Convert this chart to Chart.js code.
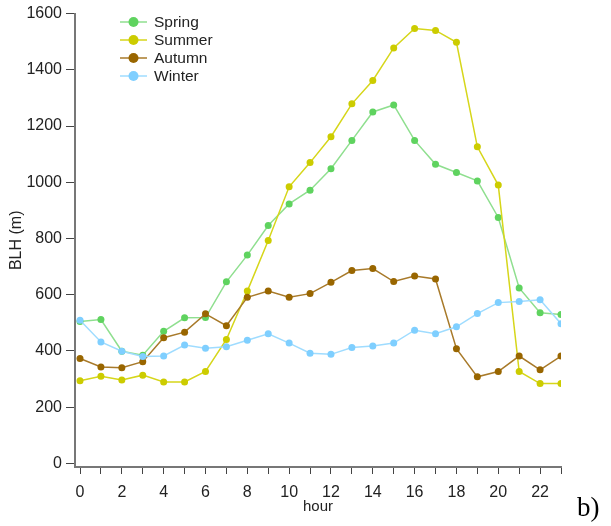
<!DOCTYPE html>
<html>
<head>
<meta charset="utf-8">
<script src="https://cdn.jsdelivr.net/npm/chart.js@4"></script>
<style>
  html, body { margin: 0; padding: 0; background: #fff; }
  #wrap { width: 611px; height: 526px; }
</style>
</head>
<body>
<div id="wrap"><canvas id="blhChart" width="611" height="526"></canvas></div>
<script>
const hours = [0,1,2,3,4,5,6,7,8,9,10,11,12,13,14,15,16,17,18,19,20,21,22,23];
const spring = [505,512,399,385,470,518,519,646,741,846,923,972,1048,1149,1250,1275,1149,1064,1035,1005,875,624,536,530];
const summer = [294,310,297,314,290,290,327,441,613,793,984,1070,1162,1279,1362,1478,1547,1540,1498,1126,990,327,284,284];
const autumn = [373,343,340,362,447,467,532,490,591,613,591,604,644,686,693,647,667,656,408,308,327,382,333,382];
const winter = [509,432,399,380,382,421,410,415,438,461,428,392,388,412,418,428,474,461,486,533,572,576,582,497];
const yTicks = [0,200,400,600,800,1000,1200,1400,1600];
const seasons = ['Spring','Summer','Autumn','Winter'];
const lineColors = ['#8fdf8f','#d6d61a','#a87a2a','#9fdcff'];
const dotColors = ['#5fd35f','#cccc00','#996600','#7fcfff'];

function series(vals) {
    return hours.map((h, i) => ({ x: h, y: vals[i] }));
}

// legend drawn inside the plot, top left
const legendPlugin = {
    id: 'cornerLegend',
    afterDraw(chart) {
        const ctx = chart.ctx;
        ctx.save();
        ctx.font = '15.5px "Liberation Sans", Arial, sans-serif';
        ctx.textBaseline = 'middle';
        seasons.forEach((name, i) => {
            const y = 22 + i * 18;
            ctx.strokeStyle = lineColors[i];
            ctx.lineWidth = 1.5;
            ctx.beginPath();
            ctx.moveTo(120, y);
            ctx.lineTo(147, y);
            ctx.stroke();
            ctx.fillStyle = dotColors[i];
            ctx.beginPath();
            ctx.arc(133.5, y, 5, 0, Math.PI * 2);
            ctx.fill();
            ctx.fillStyle = '#222';
            ctx.fillText(name, 154, y + 1);
        });
        // panel tag
        ctx.font = '27px "Liberation Serif", "Times New Roman", serif';
        ctx.textBaseline = 'alphabetic';
        ctx.fillStyle = '#000';
        ctx.fillText('b)', 577, 516);
        ctx.restore();
    }
};

const datasets = [spring, summer, autumn, winter].map((vals, i) => ({
    label: seasons[i],
    data: series(vals),
    borderColor: lineColors[i],
    backgroundColor: dotColors[i],
    pointBackgroundColor: dotColors[i],
    pointBorderWidth: 0,
    pointRadius: 3.5,
    borderWidth: 1.5,
    tension: 0,
    order: 4 - i
}));

window.onload = () => {
    const ctx = document.getElementById('blhChart').getContext('2d');
    new Chart(ctx, {
        type: 'line',
        data: { datasets: datasets },
        plugins: [legendPlugin],
        options: {
            responsive: false,
            animation: false,
            events: [],
            layout: { padding: { top: 12, right: 50, bottom: 0, left: 0 } },
            plugins: { legend: { display: false }, tooltip: { enabled: false } },
            scales: {
                x: {
                    type: 'linear',
                    min: -0.24,
                    max: 23,
                    afterBuildTicks: (s) => { s.ticks = hours.map(v => ({ value: v })); },
                    afterFit: (s) => { s.height = 59; },
                    ticks: {
                        autoSkip: false,
                        maxRotation: 0,
                        padding: 9,
                        color: '#222',
                        font: { family: '"Liberation Sans", Arial, sans-serif', size: 16 },
                        callback: (v) => (v % 2 === 0 ? String(v) : '')
                    },
                    grid: { drawOnChartArea: false, drawTicks: true, tickLength: 7, color: '#444', lineWidth: 1 },
                    border: { display: true, color: '#777', width: 2 },
                    title: {
                        display: true,
                        text: 'hour',
                        color: '#222',
                        font: { family: '"Liberation Sans", Arial, sans-serif', size: 15 },
                        padding: { top: 0, bottom: 10 }
                    }
                },
                y: {
                    type: 'linear',
                    min: -12.7,
                    max: 1600,
                    afterBuildTicks: (s) => { s.ticks = yTicks.map(v => ({ value: v })); },
                    afterFit: (s) => { s.width = 75; },
                    ticks: {
                        padding: 4,
                        color: '#222',
                        font: { family: '"Liberation Sans", Arial, sans-serif', size: 16 },
                        callback: (v) => String(v)
                    },
                    grid: { drawOnChartArea: false, drawTicks: true, tickLength: 9, color: '#444', lineWidth: 1 },
                    border: { display: true, color: '#777', width: 2 },
                    title: {
                        display: true,
                        text: 'BLH (m)',
                        color: '#222',
                        font: { family: '"Liberation Sans", Arial, sans-serif', size: 16 },
                        padding: { top: 7, bottom: 0 }
                    }
                }
            }
        }
    });
};
</script>
</body>
</html>
